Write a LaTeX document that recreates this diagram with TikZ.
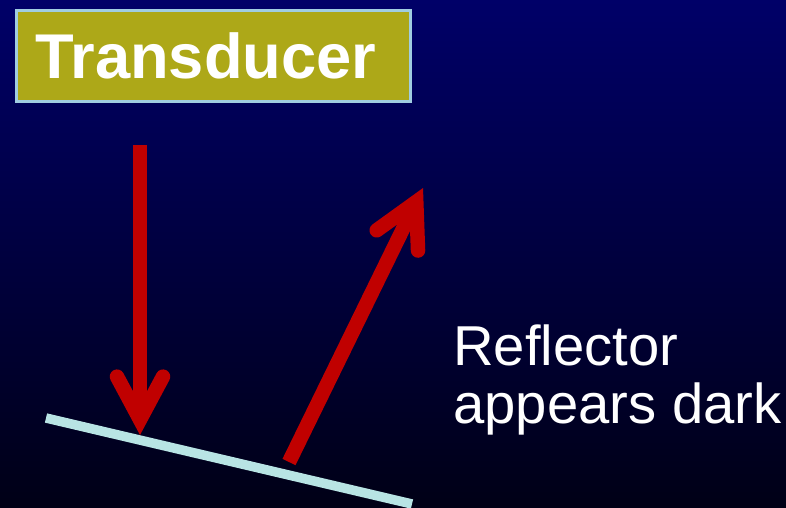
\documentclass[tikz,border=0pt]{standalone}
\usepackage{fontspec}
\setmainfont{Liberation Sans}
\usetikzlibrary{arrows.meta}

\definecolor{navytop}{RGB}{0,0,104}
\definecolor{navybot}{RGB}{0,0,22}
\definecolor{boxolive}{RGB}{173,168,24}
\definecolor{boxedge}{RGB}{160,205,225}
\definecolor{beamred}{RGB}{192,0,0}
\definecolor{mirror}{RGB}{184,228,228}

\begin{document}
\begin{tikzpicture}[
    x=0.02cm, y=-0.02cm,
    probe/.style={draw=boxedge, line width=1.5pt, fill=boxolive, text=white,
        font=\fontsize{36}{40}\selectfont\bfseries, minimum height=1.82cm,
        text width=7.12cm, inner xsep=0.38cm, align=left},
    beam/.style={draw=beamred, line width=0.29cm,
        -{Straight Barb[length=0.86cm, width=0.92cm, line cap=round]}},
    reflector/.style={draw=mirror, line width=0.19cm},
    label/.style={text=white, font=\fontsize{32}{33}\selectfont, align=left, inner sep=0pt}
]

% Background
\shade[top color=navytop, bottom color=navybot] (0,0) rectangle (786,507);
\useasboundingbox (0,0) rectangle (786,507);

% Transducer
\node[probe, anchor=north west] (xdcr) at (15,9) {Transducer};

% Reflector surface
\coordinate (refl1) at (46,418);
\coordinate (refl2) at (412,504);
\draw[reflector] (refl1) -- (refl2);

% Incident and reflected beams
\coordinate (inc1) at (140,145);
\coordinate (inc2) at (140,435);
\coordinate (echo1) at (289,462);
\coordinate (echo2) at (423,188);
\draw[beam] (inc1) -- (inc2);
\draw[beam] (echo1) -- (echo2);

% Caption
\node[label, anchor=base west] (caption) at (453,423) {Reflector\\appears dark};

\end{tikzpicture}
\end{document}
